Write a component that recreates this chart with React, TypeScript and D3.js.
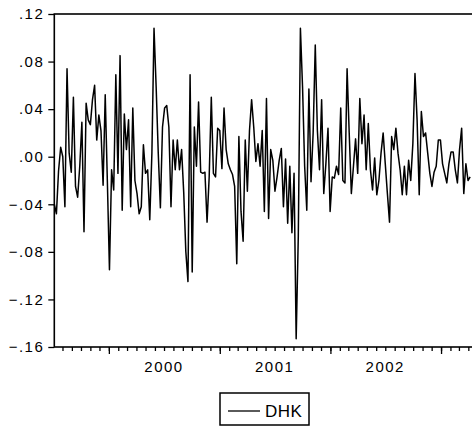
import { useRef, useEffect } from 'react';
import * as d3 from 'd3';

const dhk1999 = [
  -0.040, -0.048, -0.012, 0.008, 0.000, -0.042, 0.074, 0.003, -0.013, 0.050,
  -0.025, -0.034, -0.008, 0.029, -0.063, 0.045, 0.031, 0.027, 0.048, 0.060,
  0.014, 0.035, 0.022, -0.024, 0.052, -0.020,
];
const dhk2000 = [
  -0.095, -0.011, -0.028, 0.069, -0.014, 0.085, -0.045, 0.036, 0.006, 0.031,
  -0.042, 0.041, -0.020, -0.031, -0.048, -0.042, 0.010, -0.014, -0.011, -0.053,
  0.003, 0.108, 0.059, 0.003, -0.043, 0.025, 0.041, 0.043, 0.025, -0.042,
  0.014, -0.011, 0.014, -0.011, 0.006, -0.030, -0.080, -0.105, 0.069, -0.097,
  0.025, -0.008, 0.046, -0.013, -0.014, -0.013, -0.055, -0.017, 0.050, -0.014,
  -0.017, 0.024,
];
const dhk2001 = [
  0.022, -0.010, 0.041, 0.006, -0.006, -0.011, -0.015, -0.025, -0.090, 0.017,
  -0.046, -0.071, 0.014, -0.029, 0.022, 0.048, 0.025, -0.004, 0.011, -0.008,
  0.022, -0.046, 0.049, -0.052, 0.006, -0.003, -0.029, -0.017, -0.003, 0.007,
  -0.042, -0.002, -0.056, -0.008, -0.064, -0.014, -0.153, -0.067, 0.108, 0.059,
  -0.008, -0.045, 0.057, -0.021, 0.020, 0.094, 0.022, -0.011, 0.048, -0.031,
  -0.006, 0.024,
];
const dhk2002 = [
  -0.046, -0.017, -0.018, -0.008, -0.015, 0.041, -0.020, -0.022, 0.074, 0.020,
  -0.031, -0.008, 0.015, -0.014, 0.049, 0.011, 0.035, -0.011, 0.028, -0.011,
  -0.028, -0.001, -0.032, -0.020, 0.003, 0.020, -0.006, -0.031, -0.055, 0.017,
  0.006, 0.024, 0.003, -0.011, -0.032, -0.008, -0.032, -0.003, -0.020, 0.011,
  0.070, 0.031, -0.032, 0.038, 0.017, 0.020, 0.003, -0.014, -0.025, -0.013,
  -0.008, 0.014,
];
const dhk2003 = [
  0.014, -0.006, -0.014, -0.022, -0.006, 0.004, 0.004, -0.011, -0.022, 0.006,
  0.024, -0.031, -0.006, -0.020, -0.017,
];

const yTicks = [0.12, 0.08, 0.04, 0.0, -0.04, -0.08, -0.12, -0.16];
const yearLabels = ['2000', '2001', '2002'];
const seriesName = 'DHK';

const firstWeek = new Date(1999, 6, 5);
const lastDate = new Date(2003, 3, 25);

export default function App() {
  const svgRef = useRef<SVGSVGElement>(null);

  useEffect(() => {
    if (!svgRef.current) return;
    const width = 472;
    const height = 430;
    const left = 54.3, right = 475.6, top = 14, bottom = 347;
    const font = '"Liberation Sans", Arial, sans-serif';

    const svg = d3.select(svgRef.current);
    svg.selectAll('*').remove();
    svg.attr('width', width).attr('height', height);

    const values = [...dhk1999, ...dhk2000, ...dhk2001, ...dhk2002, ...dhk2003];
    const data = values.map((v, i) => ({ date: d3.timeWeek.offset(firstWeek, i), v }));

    const x = d3.scaleTime().domain([firstWeek, lastDate]).range([left, right]);
    const y = d3.scaleLinear().domain([-0.16, 0.12]).range([bottom, top]);

    // frame
    svg.append('rect')
      .attr('x', left).attr('y', top)
      .attr('width', right - left).attr('height', bottom - top)
      .attr('fill', 'none').attr('stroke', '#000').attr('stroke-width', 1.6);

    // month ticks
    svg.append('g')
      .attr('transform', `translate(0,${bottom})`)
      .call(d3.axisBottom(x).ticks(d3.timeMonth).tickSize(4).tickSizeOuter(0).tickFormat(() => ''))
      .call(g => g.select('.domain').remove())
      .call(g => g.selectAll('.tick line').attr('stroke', '#000').attr('stroke-width', 1.3));

    // year ticks
    svg.append('g')
      .attr('transform', `translate(0,${bottom})`)
      .call(d3.axisBottom(x).ticks(d3.timeYear).tickSize(7).tickSizeOuter(0).tickFormat(() => ''))
      .call(g => g.select('.domain').remove())
      .call(g => g.selectAll('.tick line').attr('stroke', '#000').attr('stroke-width', 1.3));

    // year labels, centred in each year
    svg.append('g')
      .selectAll('text')
      .data(yearLabels)
      .join('text')
      .attr('x', d => x(new Date(+d, 6, 1)))
      .attr('y', 371.5)
      .attr('text-anchor', 'middle')
      .attr('font-family', font)
      .attr('font-size', 15)
      .attr('letter-spacing', 1.5)
      .text(d => d);

    // y axis
    const fmt = (d: number) => d3.format('.2f')(d).replace('0.', '.');
    svg.append('g')
      .attr('transform', `translate(${left},0)`)
      .call(d3.axisLeft(y).tickValues(yTicks).tickSize(6).tickPadding(4).tickFormat(fmt as any))
      .call(g => g.select('.domain').remove())
      .call(g => g.selectAll('.tick line').attr('stroke', '#000').attr('stroke-width', 1.3))
      .call(g => g.selectAll('.tick text')
        .attr('fill', '#000')
        .attr('font-family', font)
        .attr('font-size', 15)
        .attr('letter-spacing', 1.5));

    // series line
    const line = d3.line<{ date: Date; v: number }>()
      .x(d => x(d.date))
      .y(d => y(d.v));
    svg.append('path')
      .datum(data)
      .attr('d', line)
      .attr('fill', 'none')
      .attr('stroke', '#000')
      .attr('stroke-width', 1.5)
      .attr('stroke-linejoin', 'round');

    // legend
    const lg = svg.append('g').attr('transform', 'translate(220,393)');
    lg.append('rect')
      .attr('width', 89).attr('height', 32)
      .attr('fill', '#fff').attr('stroke', '#000').attr('stroke-width', 1.5);
    lg.append('line')
      .attr('x1', 8).attr('x2', 40).attr('y1', 18).attr('y2', 18)
      .attr('stroke', '#000').attr('stroke-width', 1.3);
    lg.append('text')
      .attr('x', 45).attr('y', 24)
      .attr('font-family', font)
      .attr('font-size', 17)
      .attr('letter-spacing', 0.5)
      .text(seriesName);
  }, []);

  return (
    <svg
      ref={svgRef}
      style={{ position: 'absolute', left: 0, top: 0, background: '#fff' }}
    />
  );
}
